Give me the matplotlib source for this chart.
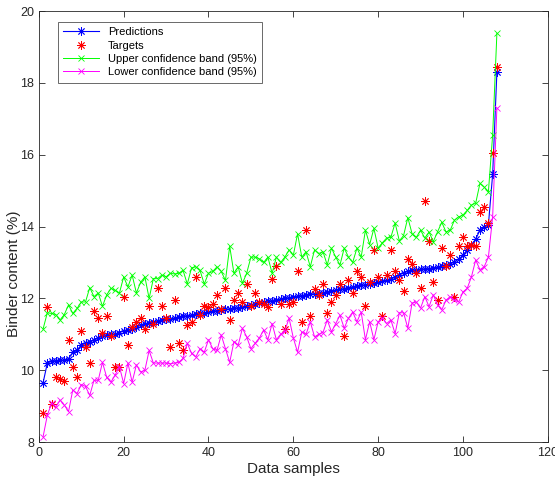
import matplotlib
matplotlib.use("Agg")
import matplotlib.pyplot as plt
import numpy as np

plt.rcParams['font.family'] = ['Liberation Sans', 'DejaVu Sans']

predictions = [9.65, 10.2, 10.25, 10.27, 10.28, 10.28, 10.32, 10.5, 10.55, 10.7,
               10.75, 10.8, 10.85, 10.9, 10.95, 10.98, 11.0, 11.0, 11.05, 11.1,
               11.12, 11.15, 11.2, 11.25, 11.28, 11.32, 11.35, 11.38, 11.4, 11.42,
               11.44, 11.45, 11.47, 11.5, 11.52, 11.54, 11.56, 11.58, 11.6, 11.62,
               11.64, 11.66, 11.68, 11.7, 11.71, 11.72, 11.74, 11.76, 11.79, 11.82,
               11.85, 11.88, 11.9, 11.92, 11.94, 11.96, 11.98, 12.0, 12.02, 12.04,
               12.06, 12.08, 12.1, 12.12, 12.13, 12.14, 12.16, 12.18, 12.2, 12.22,
               12.25, 12.27, 12.3, 12.32, 12.34, 12.36, 12.38, 12.4, 12.42, 12.45,
               12.48, 12.5, 12.55, 12.6, 12.65, 12.72, 12.76, 12.78, 12.8, 12.81,
               12.82, 12.83, 12.85, 12.87, 12.9, 12.92, 12.97, 13.02, 13.1, 13.2,
               13.35, 13.5, 13.65, 13.9, 14.0, 14.05, 15.45, 18.3]

targets = [8.8, 11.75, 9.05, 9.8, 9.75, 9.7, 10.85, 10.1, 9.8, 11.1,
           10.65, 10.2, 11.65, 11.45, 11.05, 11.5, 10.95, 10.1, 10.1, 12.05,
           10.7, 11.2, 11.35, 11.45, 11.15, 11.8, 11.3, 12.3, 11.8, 11.45,
           10.65, 11.95, 10.75, 10.55, 11.25, 11.35, 12.6, 11.55, 11.8, 11.75,
           11.85, 12.1, 11.7, 12.3, 11.4, 11.95, 12.15, 11.9, 12.4, 11.8,
           12.15, 11.9, 11.85, 11.75, 12.55, 12.9, 11.85, 11.15, 11.85, 11.9,
           12.75, 11.35, 13.9, 11.5, 12.25, 12.1, 12.4, 11.6, 11.9, 12.1,
           12.4, 10.95, 12.5, 12.15, 12.75, 12.6, 11.8, 12.45, 13.35, 12.6,
           11.5, 12.65, 13.35, 12.75, 12.5, 12.2, 13.1, 12.95, 12.7, 12.3,
           14.7, 13.6, 12.45, 11.95, 13.4, 12.9, 13.2, 12.05, 13.45, 13.7,
           13.45, 13.5, 13.45, 14.4, 14.55, 14.1, 16.05, 18.45]

upper = [11.15, 11.6, 11.58, 11.55, 11.4, 11.55, 11.82, 11.58, 11.72, 11.9,
         11.9, 12.3, 12.05, 12.15, 11.78, 12.1, 12.28, 12.22, 12.15, 12.6,
         12.32, 12.65, 12.15, 12.45, 12.6, 12.0, 12.55, 12.55, 12.65, 12.6,
         12.7, 12.68, 12.7, 12.78, 12.4, 12.85, 12.88, 12.78, 12.4, 12.7,
         12.75, 12.88, 12.75, 12.5, 13.45, 12.7, 12.88, 12.42, 12.7, 13.15,
         13.15, 13.1, 13.0, 13.15, 12.7, 13.15, 13.0, 13.15, 13.35, 13.2,
         13.8, 13.15, 13.3, 12.88, 13.35, 13.25, 13.3, 12.93, 13.4, 13.15,
         12.93, 13.4, 13.15, 13.0, 13.4, 13.15, 13.9, 13.5, 13.95, 13.4,
         13.55, 13.68, 13.7, 14.1, 13.6, 13.75, 14.25, 13.8, 13.7, 13.9,
         13.68, 13.85, 13.58, 13.85, 14.12, 13.85, 13.9, 14.18, 14.27, 14.32,
         14.45, 14.6, 14.65, 15.2, 15.1, 14.97, 16.55, 19.38]

lower = [8.15, 8.75, 9.08, 8.98, 9.17, 9.03, 8.85, 9.45, 9.35, 9.6,
         9.55, 9.3, 9.72, 9.72, 10.22, 9.8, 9.67, 9.87, 10.1, 9.63,
         10.2, 9.67, 10.15, 9.95, 10.0, 10.55, 10.2, 10.2, 10.2, 10.2,
         10.18, 10.2, 10.22, 10.33, 10.75, 10.47, 10.37, 10.6, 10.5, 10.85,
         10.6, 10.55, 10.98, 10.6, 10.22, 10.8, 10.7, 11.17, 10.93, 10.6,
         10.75, 10.9, 11.12, 10.85, 11.3, 10.85, 11.0, 11.1, 11.45, 10.9,
         10.5, 11.07, 11.0, 11.35, 10.93, 11.0, 11.05, 11.4, 11.07, 11.3,
         11.53, 11.17, 11.45, 11.62, 11.35, 11.62, 10.85, 11.35, 10.85, 11.35,
         11.45, 11.3, 11.4, 11.02, 11.6, 11.6, 11.17, 11.87, 11.9, 11.73,
         12.05, 11.77, 12.1, 11.82, 11.68, 11.95, 12.05, 11.95, 11.9, 12.18,
         12.28, 12.6, 13.07, 12.8, 12.88, 13.15, 14.27, 17.3]

samples = np.arange(1, len(predictions) + 1)

labels = ["Predictions", "Targets", "Upper confidence band (95%)",
          "Lower confidence band (95%)"]

asterisk = (8, 2, 0)

fig = plt.figure(figsize=(5.55, 4.8), dpi=100)
ax = fig.add_axes([0.070, 0.079, 0.917, 0.898])

ax.plot(samples, predictions, color=(0, 0, 1), marker=asterisk, markersize=6,
        linewidth=0.8, markeredgewidth=0.6, label=labels[0])
ax.plot(samples, targets, color=(1, 0, 0), marker=asterisk, markersize=6,
        linestyle='none', markeredgewidth=0.6, label=labels[1])
ax.plot(samples, upper, color=(0, 1, 0), marker='x', markersize=5,
        linewidth=0.7, markeredgewidth=0.6, label=labels[2])
ax.plot(samples, lower, color=(1, 0, 1), marker='x', markersize=5,
        linewidth=0.7, markeredgewidth=0.6, label=labels[3])

ax.set_xlim(0, 120)
ax.set_ylim(8, 20)
ax.set_xticks(np.arange(0, 121, 20))
ax.set_yticks(np.arange(8, 21, 2))
ax.tick_params(direction='in', top=True, right=True, labelsize=9,
               colors='#262626', length=4, width=0.6)
for s in ax.spines.values():
    s.set_linewidth(0.6)
    s.set_color('#262626')

ax.set_xlabel("Data samples", fontsize=11, color='#262626', labelpad=2)
ax.set_ylabel("Binder content (%)", fontsize=11, color='#262626')
ax.yaxis.set_label_coords(-0.036, 0.39)

leg = ax.legend(loc='upper left', bbox_to_anchor=(0.037, 0.975),
                borderaxespad=0, fontsize=8, frameon=True, fancybox=False,
                edgecolor='#262626', handlelength=3.2, labelspacing=0.3,
                borderpad=0.5)
leg.get_frame().set_linewidth(0.6)

fig.savefig("out.png", dpi=100)
